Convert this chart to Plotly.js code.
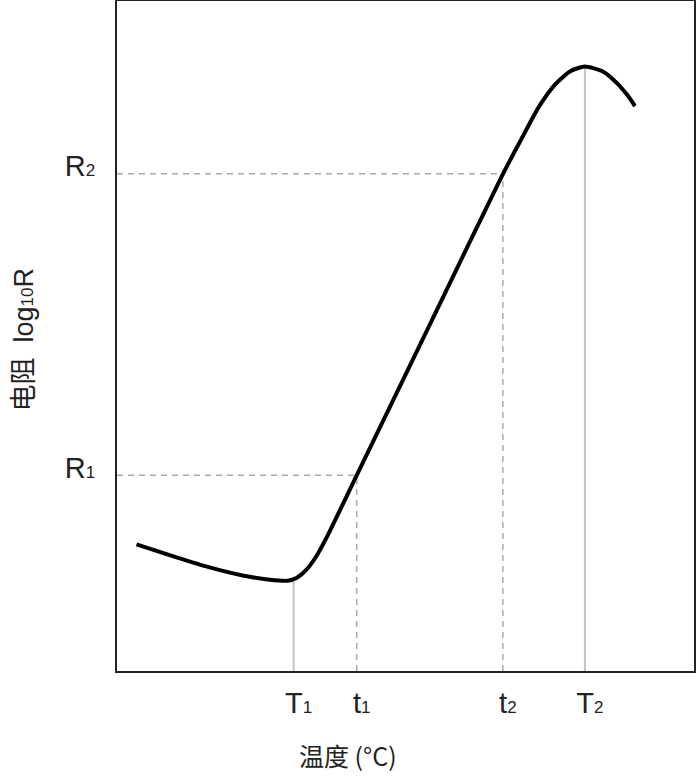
<!DOCTYPE html>
<html>
<head>
<meta charset="utf-8">
<script src="https://cdn.plot.ly/plotly-3.0.1.min.js"></script>
<style>html,body{margin:0;padding:0;background:#fff;}#chart{width:696px;height:784px;}</style>
</head>
<body>
<div id="chart"></div>
<script>
// Curve: temperature (arbitrary units) vs log10 R (arbitrary units)
const curveTemp = [3.38, 10.32, 16.04, 21.77, 26.45, 29.58, 31.17, 32.83, 34.55, 36.34, 41.54, 54.21, 66.87, 69.99, 73.01, 75.87, 78.56, 81.09, 84.21, 86.64, 88.38, 89.77];
const curveLogR = [18.89, 16.95, 15.46, 14.26, 13.62, 13.47, 13.92, 15.12, 17.13, 19.94, 29.20, 51.68, 74.16, 79.24, 84.05, 87.47, 89.53, 90.22, 89.47, 87.75, 86.03, 84.32];

// Characteristic temperatures (x ticks)
const tickTemp = [30.62, 41.54, 66.87, 81.09];
const tickTempLabels = ['T<span style="font-size:17px">1</span>', 't<span style="font-size:17px">1</span>', 't<span style="font-size:17px">2</span>', 'T<span style="font-size:17px">2</span>'];

// Characteristic resistances (y ticks)
const tickLogR = [29.2, 74.2];
const tickLogRLabels = ['R<span style="font-size:17px">1</span>', 'R<span style="font-size:17px">2</span>'];

// Solid markers: T1 (minimum) and T2 (maximum) and the curve value there
const solidTemp = [30.62, 81.09];
const solidLogR = [13.57, 90.22];

// Dashed markers: (t1, R1) and (t2, R2)
const dashTemp = [41.54, 66.87];
const dashLogR = [29.2, 74.2];

const xMin = 0, xMax = 100, yMin = 0, yMax = 100;

function segs(xs, ys, vertical) {
  const X = [], Y = [];
  for (let i = 0; i < xs.length; i++) {
    if (vertical) { X.push(xs[i], xs[i], null); Y.push(yMin, ys[i], null); }
    else { X.push(xMin, xs[i], null); Y.push(ys[i], ys[i], null); }
  }
  return {X, Y};
}

const sv = segs(solidTemp, solidLogR, true);
const dv = segs(dashTemp, dashLogR, true);
const dh = segs(dashTemp, dashLogR, false);

const traces = [
  {x: sv.X, y: sv.Y, mode: 'lines', line: {color: '#c4c4c4', width: 2}, hoverinfo: 'skip'},
  {x: dv.X, y: dv.Y, mode: 'lines', line: {color: '#aaaaaa', width: 1.5, dash: '6px,5px'}, hoverinfo: 'skip'},
  {x: dh.X, y: dh.Y, mode: 'lines', line: {color: '#aaaaaa', width: 1.5, dash: '6px,5px'}, hoverinfo: 'skip'},
  {x: curveTemp, y: curveLogR, mode: 'lines', line: {color: '#000', width: 4, shape: 'spline', smoothing: 0.6}, hoverinfo: 'skip'}
];

const fontLatin = 'Liberation Sans, Arial, "Noto Sans CJK SC", sans-serif';

const layout = {
  width: 696, height: 784,
  margin: {l: 117, r: 2, t: 1, b: 113},
  paper_bgcolor: '#fff', plot_bgcolor: '#fff',
  showlegend: false, hovermode: false,
  xaxis: {
    range: [xMin, xMax], showgrid: false, zeroline: false,
    showline: true, mirror: true, linecolor: '#222', linewidth: 2,
    tickvals: tickTemp, ticktext: tickTempLabels, ticks: '',
    ticklabelstandoff: 5, ticklabelshift: 5,
    tickfont: {family: fontLatin, size: 29, color: '#222'}
  },
  yaxis: {
    range: [yMin, yMax], showgrid: false, zeroline: false,
    showline: true, mirror: true, linecolor: '#222', linewidth: 2,
    tickvals: tickLogR, ticktext: tickLogRLabels, ticks: '',
    ticklabelstandoff: 14, ticklabelshift: -8,
    tickfont: {family: fontLatin, size: 29, color: '#222'}
  },
  annotations: [
    {text: '温度 (°C)', xref: 'paper', yref: 'paper', x: 0.40, y: -0.126,
     xanchor: 'center', yanchor: 'middle', showarrow: false,
     font: {family: '"Noto Sans CJK SC", sans-serif', size: 25, color: '#222'}},
    {text: '电阻  log<span style="font-size:17px">10</span>R', xref: 'paper', yref: 'paper', x: -0.162, y: 0.494,
     xanchor: 'center', yanchor: 'middle', showarrow: false, textangle: -90,
     font: {family: fontLatin, size: 27, color: '#222'}}
  ]
};

Plotly.newPlot('chart', traces, layout, {displayModeBar: false, staticPlot: true});
</script>
</body>
</html>
